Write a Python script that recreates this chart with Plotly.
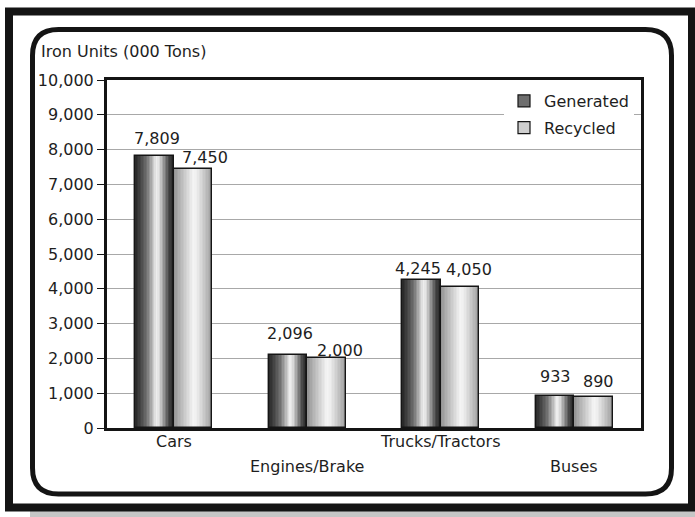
import plotly.graph_objects as go

# Iron units by vehicle category, thousand tons
categories = ["Cars", "Engines/Brake", "Trucks/Tractors", "Buses"]
generated = [7809, 2096, 4245, 933]
recycled = [7450, 2000, 4050, 890]
y_ticks = list(range(0, 10001, 1000))

# hand-placed nudges (px) for the value labels: (dx, dy above bar top)
gen_label_nudge = [(3, 18), (2, 22), (-3, 12), (1, 19)]
rec_label_nudge = [(12, 11), (13, 8), (9, 18), (5, 16)]

W, H = 695, 517
L, R, T, B = 107, 54, 80, 89
PW, PH = W - L - R, H - T - B
FONT = "DejaVu Sans"
INK = "#1e1e1e"


def px(x):
    return (x - L) / PW


def py(y):
    return (H - B - y) / PH


BAR_W = 0.2885
N_SLICES = 26

# grey levels across a bar, left edge -> right edge (cylinder shading)
gen_stops = [(0.0, 38), (0.12, 65), (0.3, 115), (0.45, 190), (0.55, 238),
             (0.62, 225), (0.75, 145), (0.88, 65), (1.0, 38)]
rec_stops = [(0.0, 145), (0.15, 178), (0.35, 215), (0.5, 245), (0.6, 238),
             (0.8, 198), (1.0, 155)]


def grey(stops, t):
    for (t0, g0), (t1, g1) in zip(stops, stops[1:]):
        if t0 <= t <= t1:
            g = int(round(g0 + (g1 - g0) * (t - t0) / (t1 - t0)))
            return f"rgb({g},{g},{g})"
    g = stops[-1][1]
    return f"rgb({g},{g},{g})"


fig = go.Figure()

series = [("Generated", generated, -BAR_W, gen_stops, "#6e6e6e", gen_label_nudge),
          ("Recycled", recycled, 0.0, rec_stops, "#cfcfcf", rec_label_nudge)]

for name, vals, off0, stops, legend_col, nudge in series:
    step = BAR_W / N_SLICES
    for k in range(N_SLICES):
        t = (k + 0.5) / N_SLICES
        w = step * (1.0 if k == N_SLICES - 1 else 1.6)
        fig.add_trace(go.Bar(
            x=categories, y=vals, offset=off0 + k * step, width=w,
            marker=dict(color=grey(stops, t), line=dict(width=0)),
            showlegend=False, hoverinfo="skip"))
    # bar outline
    fig.add_trace(go.Bar(
        x=categories, y=vals, offset=off0, width=BAR_W, name=name,
        marker=dict(color="rgba(0,0,0,0)", line=dict(color="#151515", width=1.4)),
        showlegend=False))

# legend entries
for name, vals, off0, stops, legend_col, nudge in series:
    fig.add_trace(go.Bar(
        x=categories, y=[None] * len(categories), name=name, legendgroup=name,
        marker=dict(color=legend_col, line=dict(color="#151515", width=1.2))))

annotations = []
# value labels above the bars
for name, vals, off0, stops, legend_col, nudge in series:
    for i, v in enumerate(vals):
        dx, dy = nudge[i]
        annotations.append(dict(
            x=i + off0 + BAR_W / 2, y=v, xref="x", yref="y",
            text=f"{v:,}", showarrow=False, yanchor="middle",
            xshift=dx, yshift=dy,
            font=dict(family=FONT, size=16, color=INK)))

# staggered category labels
for i, c in enumerate(categories):
    annotations.append(dict(
        x=i, y=0, xref="x", yref="y", text=c, showarrow=False,
        yanchor="middle", yshift=-13 if i % 2 == 0 else -38,
        font=dict(family=FONT, size=16, color=INK)))

annotations.append(dict(
    x=px(39), y=py(51), xref="paper", yref="paper", xanchor="left",
    yanchor="middle", text="Iron Units (000 Tons)", showarrow=False,
    font=dict(family=FONT, size=16, color=INK)))


def rounded_path(x0, y0, x1, y1, r):
    pts = [
        ("M", [(x0 + r, y0)]), ("L", [(x1 - r, y0)]),
        ("Q", [(x1, y0), (x1, y0 + r)]), ("L", [(x1, y1 - r)]),
        ("Q", [(x1, y1), (x1 - r, y1)]), ("L", [(x0 + r, y1)]),
        ("Q", [(x0, y1), (x0, y1 - r)]), ("L", [(x0, y0 + r)]),
        ("Q", [(x0, y0), (x0 + r, y0)]),
    ]
    out = []
    for cmd, ps in pts:
        out.append(cmd + " ".join(f"{px(a):.5f},{py(b):.5f}" for a, b in ps))
    return " ".join(out) + " Z"


shapes = [
    # drop shadow under the frame
    dict(type="rect", xref="paper", yref="paper", x0=px(30), x1=px(700),
         y0=py(511), y1=py(520), fillcolor="#c6c6c6", line=dict(width=0),
         layer="below"),
    # outer frame
    dict(type="rect", xref="paper", yref="paper", x0=px(9), x1=px(692),
         y0=py(507.5), y1=py(11.5), line=dict(color="#141414", width=8),
         fillcolor="rgba(0,0,0,0)", layer="below"),
    # rounded inner panel
    dict(type="path", xref="paper", yref="paper",
         path=rounded_path(32.5, 29.5, 671.5, 494, 26),
         line=dict(color="#141414", width=5), layer="below"),
]

fig.update_layout(
    width=W, height=H, margin=dict(l=L, r=R, t=T, b=B, autoexpand=False),
    paper_bgcolor="white", plot_bgcolor="white",
    barmode="overlay", bargap=0,
    font=dict(family=FONT, size=16, color=INK),
    showlegend=True,
    legend=dict(x=px(634), y=py(84), xanchor="right", yanchor="top",
                bgcolor="white", borderwidth=0, itemwidth=30,
                traceorder="grouped", tracegroupgap=3,
                font=dict(family=FONT, size=16, color=INK)),
    annotations=annotations, shapes=shapes,
    xaxis=dict(type="category", range=[-0.5, 3.5], showgrid=False,
               showticklabels=False, ticks="", showline=True, linewidth=3,
               linecolor="#141414", mirror=True, zeroline=False),
    yaxis=dict(range=[0, 10000], tickvals=y_ticks, tickformat=",",
               showgrid=True, gridcolor="#a8a8a8", gridwidth=1,
               showline=True, linewidth=3, linecolor="#141414", mirror=True,
               ticks="outside", ticklen=7, tickwidth=1, tickcolor="#141414",
               zeroline=False, tickfont=dict(family=FONT, size=16, color=INK)),
)

fig.write_html("out.html")
